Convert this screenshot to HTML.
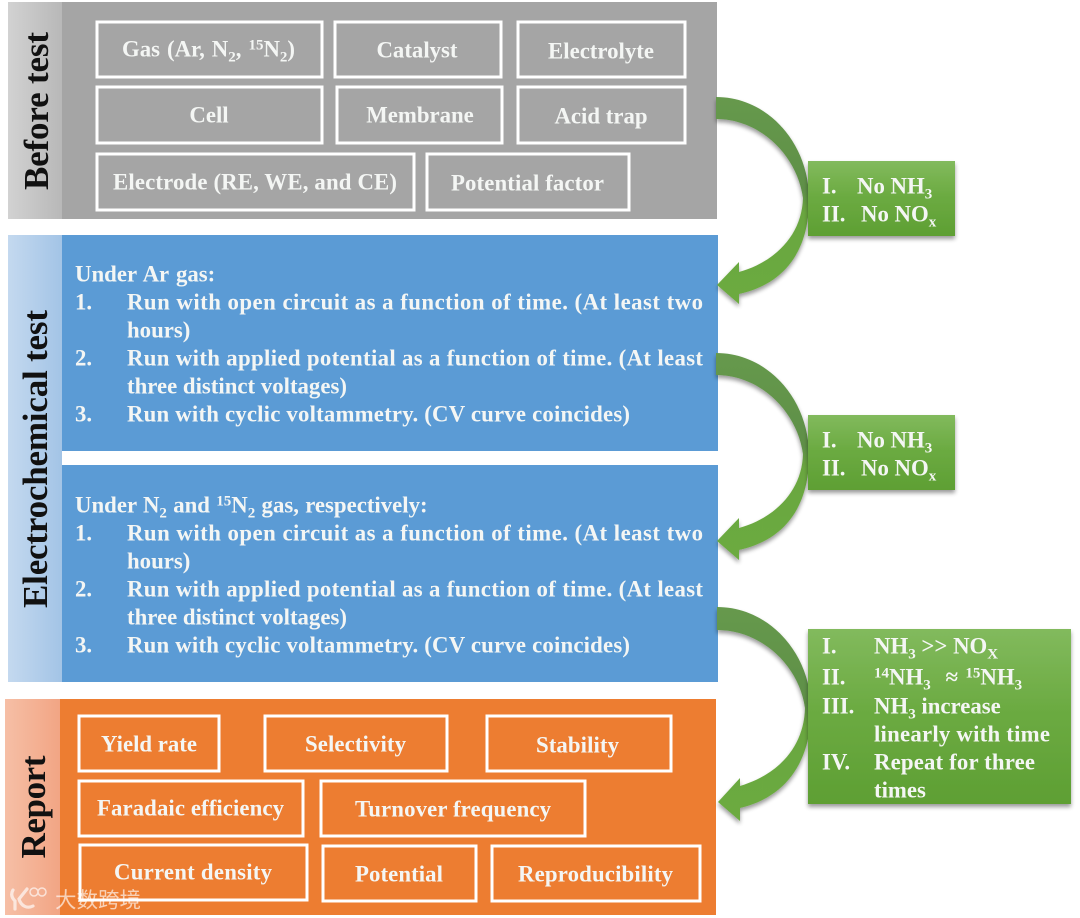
<!DOCTYPE html>
<html><head><meta charset="utf-8"><style>
html,body{margin:0;padding:0;background:#fff;width:1080px;height:918px;overflow:hidden}
svg{display:block;filter:blur(.35px)}
text{font-family:"Liberation Serif","Noto Serif CJK SC",serif;font-weight:bold;fill:#f4f6f4;font-size:22.8px;white-space:pre}
text:not(.t){transform:translateY(.7px)}
.b{fill:none;stroke:#fff;stroke-width:3}
.m{text-anchor:middle}
.t{fill:#111;font-size:35px;text-anchor:middle}
.s{font-size:15px}
</style></head><body>
<svg width="1080" height="918" viewBox="0 0 1080 918" xmlns="http://www.w3.org/2000/svg">
<defs>
<linearGradient id="g1" x1="0" x2="1" y1="0" y2="0"><stop offset="0" stop-color="#d2d2d2"/><stop offset="1" stop-color="#b8b8b8"/></linearGradient>
<linearGradient id="g2" x1="0" x2="1" y1="0" y2="0"><stop offset="0" stop-color="#c4d9ef"/><stop offset="1" stop-color="#a3c4e6"/></linearGradient>
<linearGradient id="g3" x1="0" x2="1" y1="0" y2="0"><stop offset="0" stop-color="#f6bfa6"/><stop offset="1" stop-color="#f2a584"/></linearGradient>
<linearGradient id="gb" x1="0" x2="0" y1="0" y2="1"><stop offset="0" stop-color="#82ba5d"/><stop offset=".45" stop-color="#6cab42"/><stop offset="1" stop-color="#5e9f33"/></linearGradient>
<linearGradient id="ga" x1="0" x2="0" y1="0" y2="1"><stop offset="0" stop-color="#66994d"/><stop offset=".45" stop-color="#5f8f47"/><stop offset=".56" stop-color="#6aa63f"/><stop offset="1" stop-color="#6cab40"/></linearGradient>
<filter id="sh" x="-10%" y="-10%" width="120%" height="125%"><feGaussianBlur in="SourceAlpha" stdDeviation="2.2"/><feOffset dx="0" dy="3"/><feComponentTransfer><feFuncA type="linear" slope=".4"/></feComponentTransfer><feMerge><feMergeNode/><feMergeNode in="SourceGraphic"/></feMerge></filter>
<path id="ar" d="M716 97C768 97 808 143 809 197C810 250 785 284 739 294L739 304L717 285L739 262L739 272C775 262 802 235 803 198C797 155 760 119 716 119Z" fill="url(#ga)"/>
</defs>

<!-- Before test -->
<rect x="8" y="2" width="54" height="217" fill="url(#g1)"/>
<rect x="62" y="2" width="655" height="217" fill="#a5a5a5"/>
<text class="t" transform="translate(48,111) rotate(-90)" textLength="158">Before test</text>
<rect class="b" x="97" y="22" width="225" height="55"/>
<rect class="b" x="335" y="22" width="166" height="55"/>
<rect class="b" x="518" y="22" width="167" height="55"/>
<rect class="b" x="97" y="87" width="225" height="56"/>
<rect class="b" x="337" y="87" width="165" height="56"/>
<rect class="b" x="518" y="87" width="167" height="56"/>
<rect class="b" x="97" y="154" width="317" height="56"/>
<rect class="b" x="427" y="154" width="202" height="56"/>
<text x="122" y="56" word-spacing="1.3">Gas (Ar, N<tspan class="s" dy="5">2</tspan><tspan dy="-5">, </tspan><tspan class="s" dy="-7">15</tspan><tspan dy="7">N</tspan><tspan class="s" dy="5">2</tspan><tspan dy="-5">)</tspan></text>
<text class="m" x="417" y="57">Catalyst</text>
<text class="m" x="601" y="58">Electrolyte</text>
<text class="m" x="209" y="122">Cell</text>
<text class="m" x="420" y="122">Membrane</text>
<text class="m" x="601" y="123">Acid trap</text>
<text x="113" y="189" textLength="284">Electrode (RE, WE, and CE)</text>
<text x="451" y="190" textLength="153">Potential factor</text>

<!-- Electrochemical -->
<rect x="8" y="235" width="54" height="447" fill="url(#g2)"/>
<rect x="62" y="235" width="656" height="216" fill="#5b9bd5"/>
<rect x="62" y="465" width="656" height="217" fill="#5b9bd5"/>
<text class="t" transform="translate(47,459) rotate(-90)" textLength="298">Electrochemical test</text>

<text x="75" y="281" word-spacing="1.5">Under Ar gas:</text>
<text x="75" y="309">1.</text><text x="127" y="309" textLength="576">Run with open circuit as a function of time. (At least two</text>
<text x="127" y="337">hours)</text>
<text x="75" y="365">2.</text><text x="127" y="365" textLength="576">Run with applied potential as a function of time. (At least</text>
<text x="127" y="393">three distinct voltages)</text>
<text x="75" y="421">3.</text><text x="127" y="421" textLength="503">Run with cyclic voltammetry. (CV curve coincides)</text>

<text x="75" y="512" word-spacing=".6">Under N<tspan class="s" dy="5">2</tspan><tspan dy="-5"> and </tspan><tspan class="s" dy="-7">15</tspan><tspan dy="7">N</tspan><tspan class="s" dy="5">2</tspan><tspan dy="-5"> gas, respectively:</tspan></text>
<text x="75" y="540">1.</text><text x="127" y="540" textLength="576">Run with open circuit as a function of time. (At least two</text>
<text x="127" y="568">hours)</text>
<text x="75" y="596">2.</text><text x="127" y="596" textLength="576">Run with applied potential as a function of time. (At least</text>
<text x="127" y="624">three distinct voltages)</text>
<text x="75" y="652">3.</text><text x="127" y="652" textLength="503">Run with cyclic voltammetry. (CV curve coincides)</text>

<!-- Report -->
<rect x="5" y="699" width="55" height="216" fill="url(#g3)"/>
<rect x="60" y="699" width="656" height="216" fill="#ed7d31"/>
<text class="t" transform="translate(45,807) rotate(-90)" textLength="103">Report</text>
<rect class="b" x="79" y="716" width="140" height="55"/>
<rect class="b" x="265" y="716" width="182" height="55"/>
<rect class="b" x="487" y="716" width="184" height="55"/>
<rect class="b" x="79" y="781" width="224" height="55"/>
<rect class="b" x="321" y="781" width="264" height="55"/>
<rect class="b" x="80" y="845" width="227" height="55"/>
<rect class="b" x="323" y="846" width="153" height="55"/>
<rect class="b" x="492" y="846" width="208" height="55"/>
<text x="101" y="751" textLength="96">Yield rate</text>
<text x="305" y="751" textLength="101">Selectivity</text>
<text x="536" y="752" textLength="83">Stability</text>
<text x="97" y="815" textLength="187">Faradaic efficiency</text>
<text x="355" y="816" textLength="196">Turnover frequency</text>
<text x="114" y="879" textLength="158">Current density</text>
<text x="355" y="881" textLength="88">Potential</text>
<text x="518" y="881" textLength="155">Reproducibility</text>

<!-- arrows -->
<g filter="url(#sh)">
<use href="#ar"/>
<use href="#ar" y="256"/>
<path d="M717 607C769 607 810 653 811 707C812 760 787 797 740 808L740 821L718 802L740 778L740 786C777 775 804 748 805 708C799 665 761 630 717 630Z" fill="url(#ga)"/>
</g>

<!-- green boxes -->
<g filter="url(#sh)">
<rect x="808" y="161" width="147" height="75" fill="url(#gb)"/>
<rect x="808" y="415" width="147" height="75" fill="url(#gb)"/>
<rect x="808" y="629" width="263" height="175" fill="url(#gb)"/>
</g>
<text x="822" y="193">I.</text><text x="857" y="193">No NH<tspan class="s" dy="5">3</tspan></text>
<text x="822" y="221">II.</text><text x="861" y="221">No NO<tspan class="s" dy="5">x</tspan></text>
<text x="822" y="447">I.</text><text x="857" y="447">No NH<tspan class="s" dy="5">3</tspan></text>
<text x="822" y="475">II.</text><text x="861" y="475">No NO<tspan class="s" dy="5">x</tspan></text>

<text x="822" y="653">I.</text><text x="874" y="653">NH<tspan class="s" dy="5">3</tspan><tspan dy="-5"> &gt;&gt; NO</tspan><tspan class="s" dy="5">X</tspan></text>
<text x="822" y="684">II.</text><text x="874" y="684" word-spacing="1.7"><tspan class="s" dy="-7">14</tspan><tspan dy="7">NH</tspan><tspan class="s" dy="5">3</tspan><tspan dy="-5">  ≈ </tspan><tspan class="s" dy="-7">15</tspan><tspan dy="7">NH</tspan><tspan class="s" dy="5">3</tspan></text>
<text x="822" y="713">III.</text><text x="874" y="713">NH<tspan class="s" dy="5">3</tspan><tspan dy="-5"> increase</tspan></text>
<text x="874" y="741" textLength="176">linearly with time</text>
<text x="822" y="769">IV.</text><text x="874" y="769" textLength="161">Repeat for three</text>
<text x="874" y="797">times</text>

<!-- watermark -->
<g opacity=".65">
<path d="M13 890C10 895 13 899 15 901L15 909M27 889L19 899C21 906 27 909 33 906" fill="none" stroke="#fff" stroke-width="3.2" stroke-linecap="round"/>
<circle cx="34" cy="892" r="4" fill="none" stroke="#fff" stroke-width="1.5"/>
<circle cx="42" cy="892" r="4" fill="none" stroke="#fff" stroke-width="1.5"/>
<text x="55" y="907" style="font-family:'Noto Sans CJK SC',sans-serif;font-size:21.5px;font-weight:400;fill:#fff">大数跨境</text>
</g>
</svg>
</body></html>
